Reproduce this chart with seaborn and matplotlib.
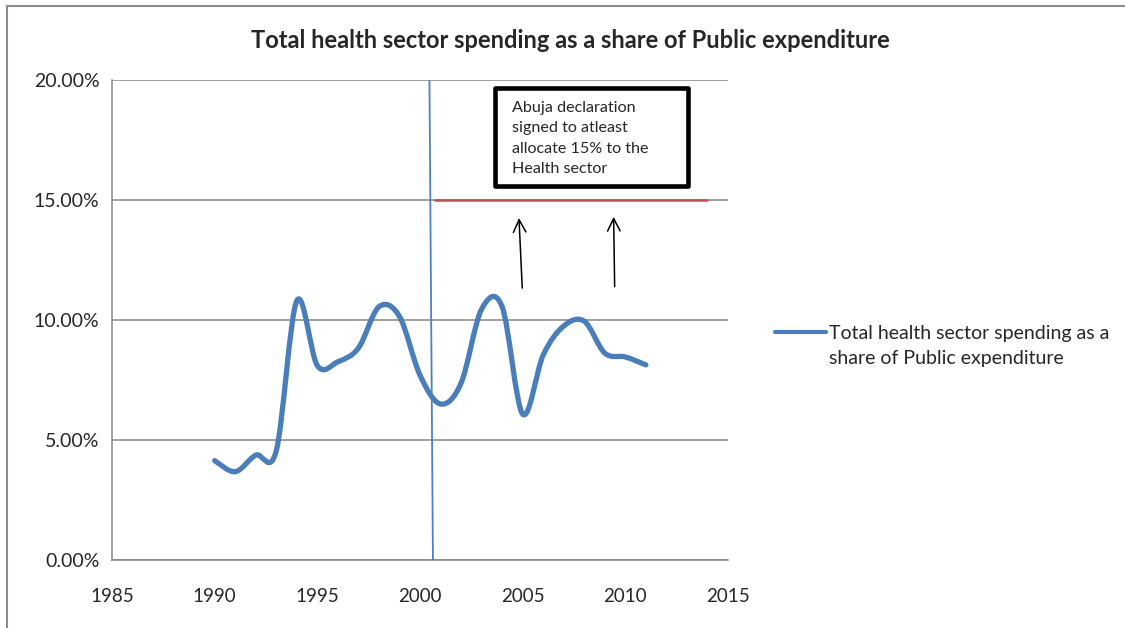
import numpy as np
import pandas as pd
import matplotlib
matplotlib.use("Agg")
import matplotlib.pyplot as plt
import seaborn as sns
from matplotlib.path import Path
from matplotlib.patches import PathPatch, Rectangle
from matplotlib.lines import Line2D
from matplotlib.legend_handler import HandlerLine2D
from matplotlib.ticker import FuncFormatter

# ---------------- data ----------------
years = [1990, 1991, 1992, 1993, 1994, 1995, 1996, 1997, 1998, 1999, 2000,
         2001, 2002, 2003, 2004, 2005, 2006, 2007, 2008, 2009, 2010, 2011]
share_pct = [4.14, 3.68, 4.37, 4.55, 10.80, 8.10, 8.26, 8.83, 10.55, 10.15, 7.70,
             6.50, 7.37, 10.45, 10.55, 6.08, 8.54, 9.75, 9.95, 8.62, 8.46, 8.13]
series_name = "Total health sector spending as a\nshare of Public expenditure"
title = "Total health sector spending as a share of Public expenditure"
annotation = "Abuja declaration\nsigned to atleast\nallocate 15% to the\nHealth sector"
abuja_x = [2000.46, 2000.63]      # vertical marker (top, bottom)
abuja_y = [20.0, 0.0]
target_x = [2000.75, 2014.0]      # 15% target line
target_y = [15.0, 15.0]
arrow_tails = [(2004.98, 11.33), (2009.48, 11.39)]
arrow_heads = [(2004.82, 14.25), (2009.43, 14.30)]
x_ticks = [1985, 1990, 1995, 2000, 2005, 2010, 2015]
y_ticks = [0, 5, 10, 15, 20]

df = pd.DataFrame({"year": years, "share": share_pct})

# ---------------- style ----------------
sns.set_style("white")
plt.rcParams["font.family"] = ["Lato", "DejaVu Sans"]

W, H = 1125, 628
fig = plt.figure(figsize=(W / 100, H / 100), dpi=100)
# axes in pixel coords: left 112, right 728, top 80, bottom 560
ax = fig.add_axes([112 / W, (H - 560) / H, (728 - 112) / W, 480 / H])

# outer chart border (left and top only visible)
fig.add_artist(Line2D([7 / W, 7 / W], [0, 1 - 6 / H], transform=fig.transFigure,
                      color="#8c8c8c", lw=1.5))
fig.add_artist(Line2D([7 / W, 1], [1 - 6 / H, 1 - 6 / H], transform=fig.transFigure,
                      color="#8c8c8c", lw=1.5))

ax.set_xlim(1985, 2015)
ax.set_ylim(0, 20)
ax.set_xticks(x_ticks)
ax.set_yticks(y_ticks)
ax.yaxis.set_major_formatter(FuncFormatter(lambda v, p: f"{v:.2f}%"))
ax.grid(axis="y", color="#868686", lw=1.1)
ax.grid(axis="x", visible=False)
ax.set_axisbelow(True)
for s in ["top", "right"]:
    ax.spines[s].set_visible(False)
for s in ["left", "bottom"]:
    ax.spines[s].set_color("#868686")
    ax.spines[s].set_linewidth(1.1)
ax.tick_params(axis="y", direction="inout", length=10, color="#868686", width=1.1,
               labelsize=14, pad=4)
ax.tick_params(axis="x", direction="in", length=6, color="#868686", width=1.1,
               labelsize=13.5, pad=20)
ax.set_xlabel("")
ax.set_ylabel("")

# ---------------- smoothed main series (Excel-style Bezier smoothing) ----------------
def smooth_path(xs, ys):
    xs = np.asarray(xs, float)
    ys = np.asarray(ys, float)
    n = len(xs)
    verts = [(xs[0], ys[0])]
    codes = [Path.MOVETO]
    for i in range(n - 1):
        p0 = np.array([xs[max(i - 1, 0)], ys[max(i - 1, 0)]])
        p1 = np.array([xs[i], ys[i]])
        p2 = np.array([xs[i + 1], ys[i + 1]])
        p3 = np.array([xs[min(i + 2, n - 1)], ys[min(i + 2, n - 1)]])
        c1 = p1 + (p2 - p0) / 6.0
        c2 = p2 - (p3 - p1) / 6.0
        verts += [tuple(c1), tuple(c2), tuple(p2)]
        codes += [Path.CURVE4] * 3
    return Path(verts, codes)

line_color = "#4A7EBB"
patch = PathPatch(smooth_path(df["year"], df["share"]), facecolor="none",
                  edgecolor=line_color, lw=3.8, capstyle="round", joinstyle="round",
                  zorder=4)
ax.add_patch(patch)

# vertical Abuja marker and 15% target line (drawn with seaborn)
sns.lineplot(x=abuja_x, y=abuja_y, ax=ax, color="#4F81BD", lw=1.3, sort=False,
             estimator=None, zorder=3)
sns.lineplot(x=target_x, y=target_y, ax=ax, color="#C0504D", lw=1.8, sort=False,
             estimator=None, zorder=3)

# arrows
for (tx, ty), (hx, hy) in zip(arrow_tails, arrow_heads):
    ax.annotate("", xy=(hx, hy), xytext=(tx, ty),
                arrowprops=dict(arrowstyle="->,head_length=0.9,head_width=0.45",
                                color="black", lw=1.1, shrinkA=0, shrinkB=0))

# annotation box (pixel position 495..688 x 88..186)
box = Rectangle((495 / W, 1 - 186 / H), (688 - 495) / W, (186 - 88) / H,
                transform=fig.transFigure, facecolor="white", edgecolor="black",
                lw=3.3, zorder=6, joinstyle="round")
fig.add_artist(box)
fig.text(512 / W, 1 - 101 / H, annotation, ha="left", va="top", fontsize=11.6,
         linespacing=1.58, zorder=7)

# title
fig.text(570 / W, 1 - 40 / H, title, ha="center", va="center", fontsize=17,
         fontweight="bold")


# legend: handle aligned with the first text line
class FirstLineHandler(HandlerLine2D):
    def create_artists(self, legend, orig_handle, xdescent, ydescent, width,
                       height, fontsize, trans):
        arts = super().create_artists(legend, orig_handle, xdescent, ydescent,
                                      width, height, fontsize, trans)
        for a in arts:
            a.set_ydata(np.asarray(a.get_ydata()) + fontsize * 0.72)
        return arts


handle = Line2D([], [], color=line_color, lw=3)
leg = fig.legend([handle], [series_name], loc="upper left",
                 bbox_to_anchor=(775 / W, 1 - 325 / H), frameon=False, fontsize=14,
                 handlelength=2.6, handletextpad=0.2, borderaxespad=0, borderpad=0,
                 handler_map={Line2D: FirstLineHandler()})
for t in leg.get_texts():
    t.set_linespacing(1.55)

fig.savefig("out.png", dpi=100, facecolor="white")
